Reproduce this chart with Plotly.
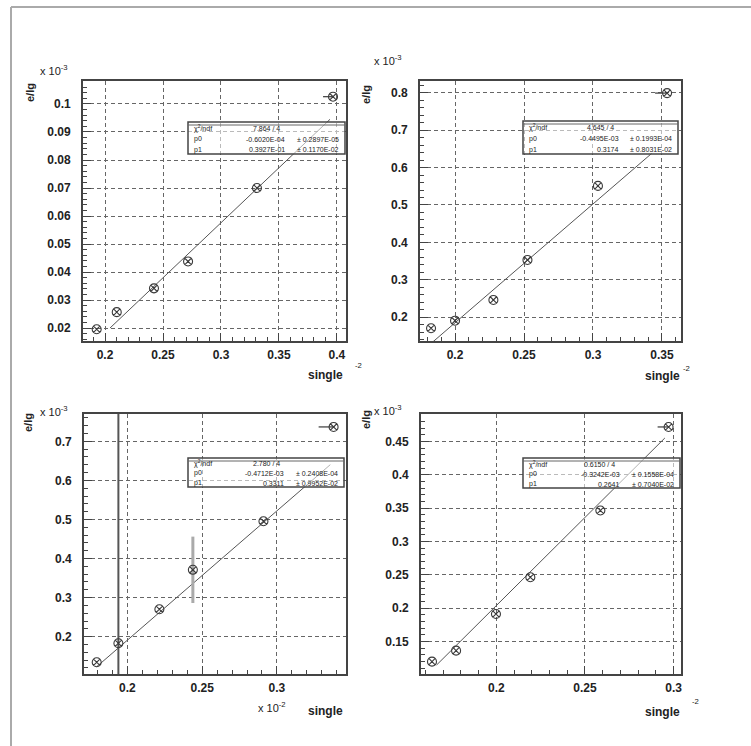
import numpy as np
import plotly.graph_objects as go

W, H = 751, 746

# ---------------- data ----------------
p1_x = [0.1928, 0.2101, 0.2422, 0.2716, 0.3310, 0.3966]
p1_y = [0.0196, 0.0257, 0.0342, 0.0438, 0.0700, 0.1026]
p1_fit = (-0.0602, 0.3927)
p1_fit_range = (0.2043, 0.3940)

p2_x = [0.1826, 0.2000, 0.2278, 0.2525, 0.3036, 0.3537]
p2_y = [0.1706, 0.1909, 0.2463, 0.3532, 0.5510, 0.7990]
p2_fit = (-0.4495, 3.174)
p2_fit_range = (0.1826, 0.3428)

p3_x = [0.1795, 0.1940, 0.2214, 0.2438, 0.2910, 0.3379]
p3_y = [0.1344, 0.1830, 0.2703, 0.3711, 0.4955, 0.7369]
p3_fit = (-0.4712, 3.311)
p3_fit_range = (0.1795, 0.3357)
p3_err_big = [0, 1.0, 0, 0, 0, 0]
p3_err_small = [0, 0, 0, 0.085, 0, 0]

p4_x = [0.1637, 0.1773, 0.1998, 0.2192, 0.2587, 0.2972]
p4_y = [0.1200, 0.1365, 0.1914, 0.2465, 0.3465, 0.4717]
p4_fit = (-0.3242, 2.641)
p4_fit_range = (0.1663, 0.2951)

last_xerr = [0.0086, 0.0087, 0.0100, 0.0062]

xranges = [(0.181, 0.4078), (0.1746, 0.3638), (0.171, 0.3462), (0.1575, 0.3042)]
yranges = [(0.0154, 0.1082), (0.1366, 0.8313), (0.1044, 0.770), (0.1015, 0.4911)]
xticks = [[0.2, 0.25, 0.3, 0.35, 0.4], [0.2, 0.25, 0.3, 0.35], [0.2, 0.25, 0.3], [0.2, 0.25, 0.3]]
ydticks = [0.01, 0.1, 0.1, 0.05]

stat_chi = ["7.864 / 4", "4.645 / 4", "2.780 / 4", "0.6150 / 4"]
stat_p0 = [("-0.6020E-04", "0.2897E-05"), ("-0.4495E-03", "0.1993E-04"),
           ("-0.4712E-03", "0.2408E-04"), ("-0.3242E-03", "0.1558E-04")]
stat_p1 = [("0.3927E-01", "0.1170E-02"), ("0.3174", "0.8031E-02"),
           ("0.3311", "0.9952E-02"), ("0.2641", "0.7040E-02")]

x_title = "single"
y_title = "e/lg"

# ---------------- layout geometry (pixels) ----------------
frames = [(83, 81, 346, 341), (420, 81, 681, 341), (84, 414, 346, 674), (421, 414, 681, 674)]
stat_boxes = [(188, 122, 345, 154), (523, 121, 678, 154), (188, 458, 344, 487), (523, 458, 680, 488)]


def fx(px):
    return px / W


def fy(py):
    return 1 - py / H


FONT = "Liberation Sans, Arial, sans-serif"
INK = "#3a3a3a"

fig = go.Figure()

datasets = [(p1_x, p1_y, p1_fit, p1_fit_range), (p2_x, p2_y, p2_fit, p2_fit_range),
            (p3_x, p3_y, p3_fit, p3_fit_range), (p4_x, p4_y, p4_fit, p4_fit_range)]

for i, (xs, ys, fit, frange) in enumerate(datasets):
    sfx = "" if i == 0 else str(i + 1)
    xa, ya = "x" + sfx, "y" + sfx
    fxv = np.array(frange)
    fig.add_trace(go.Scatter(x=fxv, y=fit[0] + fit[1] * fxv, mode="lines",
                             line=dict(color="#555", width=1), xaxis=xa, yaxis=ya,
                             showlegend=False, hoverinfo="skip"))
    if i == 2:
        fig.add_trace(go.Scatter(x=xs, y=ys, mode="markers", marker=dict(size=1, opacity=0),
                                 error_y=dict(type="data", array=p3_err_big, color="#555",
                                              thickness=2, width=0),
                                 xaxis=xa, yaxis=ya, showlegend=False, hoverinfo="skip"))
        fig.add_trace(go.Scatter(x=xs, y=ys, mode="markers", marker=dict(size=1, opacity=0),
                                 error_y=dict(type="data", array=p3_err_small, color="#aaa",
                                              thickness=3, width=0),
                                 xaxis=xa, yaxis=ya, showlegend=False, hoverinfo="skip"))
    xerr_minus = [0] * (len(xs) - 1) + [last_xerr[i]]
    fig.add_trace(go.Scatter(x=xs, y=ys, mode="markers",
                             marker=dict(symbol="circle-x-open", size=9, color=INK,
                                         line=dict(width=1.1, color=INK)),
                             error_x=dict(type="data", symmetric=False, array=[0] * len(xs),
                                          arrayminus=xerr_minus, color=INK, thickness=1.2, width=0),
                             xaxis=xa, yaxis=ya, showlegend=False))

tickfont = dict(family=FONT, size=12, color="#222", weight="bold")
axis_common = dict(showline=True, mirror=True, linecolor="#444", linewidth=1.8,
                   ticks="inside", ticklen=8, tickcolor="#444", tickwidth=1,
                   showgrid=True, gridcolor="#666", griddash="4px,3px", gridwidth=1,
                   zeroline=False, tickfont=tickfont)

layout = dict(width=W, height=H, margin=dict(l=0, r=0, t=0, b=0),
              paper_bgcolor="white", plot_bgcolor="white", showlegend=False)

for i in range(4):
    sfx = "" if i == 0 else str(i + 1)
    x0, y0, x1, y1 = frames[i]
    ydt = ydticks[i]
    layout["xaxis" + sfx] = dict(axis_common, domain=[fx(x0), fx(x1)], range=list(xranges[i]),
                                 anchor="y" + sfx, tickvals=xticks[i],
                                 ticktext=[("%g" % v) for v in xticks[i]],
                                 ticklabelstandoff=2,
                                 minor=dict(ticks="inside", ticklen=4, dtick=0.01,
                                            tickcolor="#444", showgrid=False))
    layout["yaxis" + sfx] = dict(axis_common, domain=[fy(y1), fy(y0)], range=list(yranges[i]),
                                 anchor="x" + sfx, dtick=ydt, tick0=0,
                                 tickformat="~g", ticklabelstandoff=8,
                                 minor=dict(ticks="inside", ticklen=4, dtick=ydt / 5,
                                            tickcolor="#444", showgrid=False))

fig.update_layout(**layout)

shapes = []
annotations = []


def ann(text, px, py, size=11, xanchor="center", yanchor="middle", angle=0, color="#222",
        bold=True):
    annotations.append(dict(text=text, x=fx(px), y=fy(py), xref="paper", yref="paper",
                            showarrow=False, xanchor=xanchor, yanchor=yanchor, textangle=angle,
                            font=dict(family=FONT, size=size, color=color,
                                      weight="bold" if bold else "normal")))


# canvas border
shapes.append(dict(type="line", xref="paper", yref="paper", x0=fx(11), x1=fx(11), y0=fy(7), y1=0,
                   line=dict(color="#aaa", width=2)))
shapes.append(dict(type="line", xref="paper", yref="paper", x0=fx(11), x1=1, y0=fy(7), y1=fy(7),
                   line=dict(color="#aaa", width=2)))

# y titles and exponents
ytitle_pos = [(30, 93), (366, 95), (28, 423), (366, 420)]
yexp_pos = [(38, 70), (372, 60), (38, 411), (372, 410)]
for i in range(4):
    ann(y_title, ytitle_pos[i][0], ytitle_pos[i][1], size=11, angle=-90)
    ann("x 10<sup>-3</sup>", yexp_pos[i][0], yexp_pos[i][1], size=11, xanchor="left",
        bold=False)

# x titles and exponents
ann(x_title, 345, 375, size=12, xanchor="right")
ann("<sup>-2</sup>", 353, 365, size=11, xanchor="left", bold=False)
ann(x_title, 682, 376, size=12, xanchor="right")
ann("<sup>-2</sup>", 681, 368, size=11, xanchor="left", bold=False)
ann("x 10<sup>-2</sup>", 256, 707, size=11, xanchor="left", bold=False)
ann(x_title, 345, 711, size=12, xanchor="right")
ann(x_title, 682, 712, size=12, xanchor="right")
ann("<sup>-2</sup>", 690, 701, size=11, xanchor="left", bold=False)

# stats boxes
for i in range(4):
    bx0, by0, bx1, by1 = stat_boxes[i]
    shapes.append(dict(type="rect", xref="paper", yref="paper", x0=fx(bx0), x1=fx(bx1),
                       y0=fy(by1), y1=fy(by0), line=dict(color="#444", width=1.5),
                       fillcolor="rgba(255,255,255,0.55)"))
    rh = (by1 - by0) / 3.0
    shapes.append(dict(type="line", xref="paper", yref="paper", x0=fx(bx0), x1=fx(bx1),
                       y0=fy(by0 + 3), y1=fy(by0 + 3), line=dict(color="#666", width=1)))
    rows = [("χ<sup>2</sup>/ndf", stat_chi[i], ""), ("p0",) + stat_p0[i], ("p1",) + stat_p1[i]]
    for r, (lab, val, err) in enumerate(rows):
        cy = by0 + rh * (r + 0.6)
        ann(lab, bx0 + 4, cy, size=7, xanchor="left", bold=False)
        if r == 0:
            ann(val, bx0 + (bx1 - bx0) * 0.60, cy, size=7, xanchor="right", bold=False)
        else:
            ann(val, bx0 + (bx1 - bx0) * 0.63, cy, size=7, xanchor="right", bold=False)
            ann("± " + err, bx1 - 4, cy, size=7, xanchor="right", bold=False)

fig.update_layout(shapes=shapes, annotations=annotations)

fig.write_html("out.html")
